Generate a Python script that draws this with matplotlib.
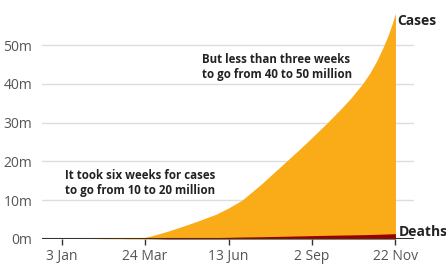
import pandas as pd
import matplotlib
matplotlib.use("Agg")
import matplotlib.pyplot as plt

# cumulative global totals, millions
dates = ["2020-01-03", "2020-01-22", "2020-02-01", "2020-02-15", "2020-03-01",
         "2020-03-15", "2020-03-24", "2020-04-01", "2020-04-15", "2020-05-01",
         "2020-05-15", "2020-06-01", "2020-06-13", "2020-06-26", "2020-07-15",
         "2020-08-08", "2020-08-20", "2020-09-01", "2020-09-17",
         "2020-10-01", "2020-10-10", "2020-10-21", "2020-10-28", "2020-11-04",
         "2020-11-11", "2020-11-15", "2020-11-19", "2020-11-22"]
cases = [0.0, 0.0006, 0.012, 0.069, 0.088, 0.17, 0.42, 0.93, 2.0, 3.4,
         4.7, 6.4, 8.0, 10.0, 14.2, 20.0, 22.9, 25.9, 30.0,
         33.8, 36.4, 40.0, 42.7, 46.0, 50.0, 52.6, 55.6, 58.2]
deaths = [0.0, 0.0, 0.0003, 0.0015, 0.003, 0.006, 0.019, 0.047, 0.13, 0.23,
          0.31, 0.37, 0.43, 0.50, 0.58, 0.72, 0.79, 0.86, 0.95,
          1.02, 1.06, 1.12, 1.16, 1.21, 1.27, 1.31, 1.35, 1.38]

tick_dates = ["2020-01-03", "2020-03-24", "2020-06-13", "2020-09-02", "2020-11-22"]
tick_labels = ["3 Jan", "24 Mar", "13 Jun", "2 Sep", "22 Nov"]
y_ticks = [0, 10, 20, 30, 40, 50]
y_labels = ["0m", "10m", "20m", "30m", "40m", "50m"]

x = pd.to_datetime(dates)
font = "Open Sans"

fig = plt.figure(figsize=(4.46, 2.64), dpi=100)
ax = fig.add_axes([42/446, 25/264, 372/446, 239/264])

ax.fill_between(x, 0, cases, color="#FAAB18", linewidth=0, zorder=2)
ax.fill_between(x, 0, deaths, color="#990000", linewidth=0, zorder=3)

ax.set_xlim(pd.Timestamp("2019-12-15"), pd.Timestamp("2020-12-10"))
ax.set_ylim(0, 61.6)

ax.set_yticks(y_ticks)
ax.set_yticklabels(y_labels)
ax.set_xticks(pd.to_datetime(tick_dates))
ax.set_xticklabels(tick_labels)

ax.grid(axis="y", color="#dddddd", linewidth=1, zorder=1)
ax.axhline(0, color="#333333", linewidth=1.5, zorder=4)
for s in ax.spines.values():
    s.set_visible(False)
ax.tick_params(axis="y", length=0, pad=7, labelsize=10, labelcolor="#555555")
ax.tick_params(axis="x", length=4, width=1, color="#333333", pad=3,
               labelsize=10, labelcolor="#555555")
for lab in ax.get_xticklabels() + ax.get_yticklabels():
    lab.set_fontfamily(font)

ax.text(pd.Timestamp("2020-01-06"), 18.1, "It took six weeks for cases\nto go from 10 to 20 million",
        fontsize=8.3, fontweight="bold", family=font, color="#222222",
        va="top", ha="left", linespacing=1.2)
ax.text(pd.Timestamp("2020-05-18"), 47.9, "But less than three weeks\nto go from 40 to 50 million",
        fontsize=8.3, fontweight="bold", family=font, color="#222222",
        va="top", ha="left", linespacing=1.2)
ax.text(pd.Timestamp("2020-11-24"), 56.3, "Cases", fontsize=10, fontweight="bold",
        family=font, color="#222222", va="center", ha="left")
ax.text(pd.Timestamp("2020-11-25"), 1.8, "Deaths", fontsize=10, fontweight="bold",
        family=font, color="#222222", va="center", ha="left", clip_on=False)

fig.savefig("out.png", dpi=100)
